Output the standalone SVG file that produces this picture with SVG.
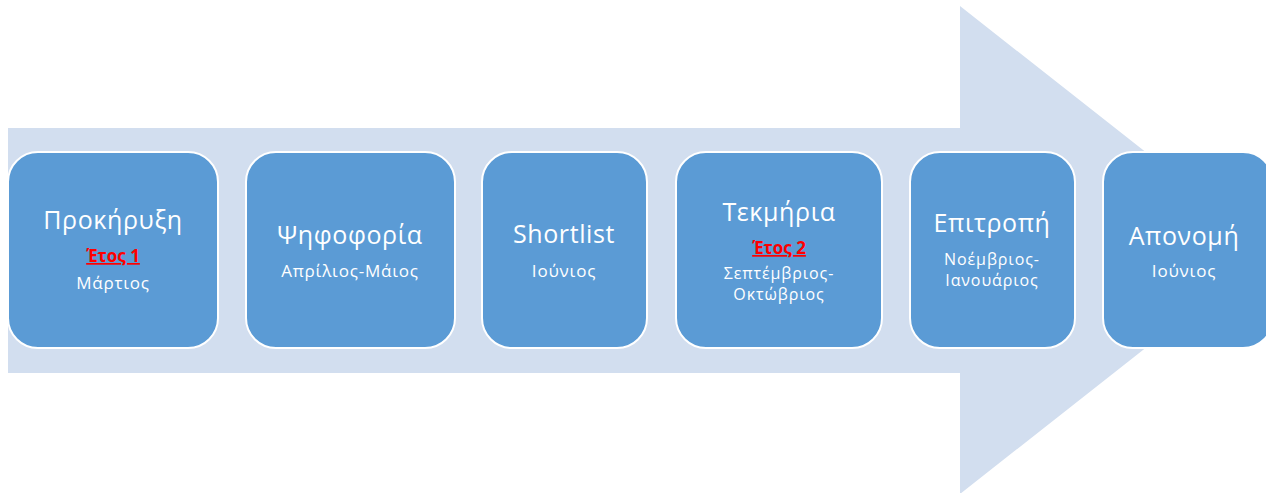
<svg xmlns="http://www.w3.org/2000/svg" width="1266" height="493" viewBox="0 0 1266 493">
<style>
.box{fill:#5B9BD5;stroke:#FFFFFF;stroke-width:2}
.t{font-family:"Open Sans","Liberation Sans",sans-serif;fill:#FFFFFF;text-anchor:middle;font-size:25px;letter-spacing:0.6px}
.s{font-family:"Open Sans","Liberation Sans",sans-serif;fill:#FFFFFF;text-anchor:middle;font-size:17px;letter-spacing:0.8px}
.m{font-family:"Open Sans","Liberation Sans",sans-serif;fill:#FFFFFF;text-anchor:middle;font-size:16px;letter-spacing:0.9px}
.y{font-family:"Open Sans","Liberation Sans",sans-serif;fill:#FF0000;text-anchor:middle;font-size:17px;font-weight:bold;text-decoration:underline}
</style>
<rect width="1266" height="493" fill="#FFFFFF"/>
<g id="connectors">
<polygon points="8,128 960,128 960,6 1270,250 960,494 960,373 8,373" fill="#D2DEEF"/>
</g>
<g id="n1"><rect class="box" x="8" y="152" width="210" height="196" rx="30"/>
<text class="t" x="113" y="229">Προκήρυξη</text>
<text class="y" x="113" y="262">Έτος 1</text>
<text class="s" x="113" y="289">Μάρτιος</text></g>
<g id="n2"><rect class="box" x="246" y="152" width="209" height="196" rx="30"/>
<text class="t" x="350" y="244">Ψηφοφορία</text>
<text class="s" x="350" y="277">Απρίλιος-Μάιος</text></g>
<g id="n3"><rect class="box" x="482" y="152" width="165" height="196" rx="30"/>
<text class="t" x="564" y="243">Shortlist</text>
<text class="s" x="564" y="277">Ιούνιος</text></g>
<g id="n4"><rect class="box" x="676" y="152" width="206" height="196" rx="30"/>
<text class="t" x="779" y="221">Τεκμήρια</text>
<text class="y" x="779" y="254">Έτος 2</text>
<text class="m" x="779" y="279">Σεπτέμβριος-</text>
<text class="m" x="779" y="300">Οκτώβριος</text></g>
<g id="n5"><rect class="box" x="910" y="152" width="165" height="196" rx="30"/>
<text class="t" x="992" y="232">Επιτροπή</text>
<text class="m" x="992" y="265">Νοέμβριος-</text>
<text class="m" x="992" y="286">Ιανουάριος</text></g>
<g id="n6"><rect class="box" x="1103" y="152" width="170" height="196" rx="30"/>
<text class="t" x="1184" y="245">Απονομή</text>
<text class="s" x="1184" y="277">Ιούνιος</text></g>
</svg>
